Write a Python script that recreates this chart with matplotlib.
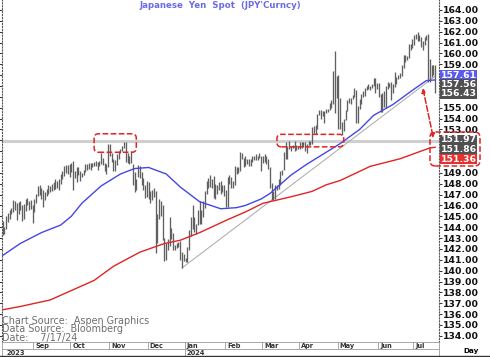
import numpy as np
import pandas as pd
import matplotlib
matplotlib.use("Agg")
import matplotlib.pyplot as plt
from matplotlib.patches import FancyBboxPatch
from matplotlib.lines import Line2D

# daily high / low, USDJPY, 2023-08-08 .. 2024-07-17 (trading days)
high = [
    # Aug
    144.6, 144.0, 145.0, 145.3, 145.6, 145.8, 146.5, 146.4, 146.2, 146.3, 146.4, 146.0, 146.1, 146.6, 146.7, 146.4, 146.5, 146.0,
    # Sep
    146.6, 147.1, 147.8, 147.9, 147.6, 147.4, 147.2, 147.5, 147.9, 147.8, 148.0, 148.2, 148.4, 148.3, 148.4, 148.9, 149.2, 149.6, 149.7, 149.7, 149.8,
    # Oct
    149.9, 150.1, 149.2, 149.5, 149.5, 149.2, 149.0, 149.3, 149.8, 149.8, 149.9, 149.9, 149.9, 150.0, 150.1, 150.0, 150.1, 150.8, 150.4, 149.9, 149.8, 151.7,
    # Nov
    151.7, 150.8, 150.3, 150.2, 150.7, 151.0, 151.2, 151.5, 151.85, 151.8, 150.8, 150.6, 151.0, 149.8, 149.1, 148.4, 149.7, 149.6, 149.1, 148.5, 147.9, 148.3,
    # Dec
    148.2, 147.3, 147.4, 147.6, 147.3, 145.2, 146.6, 146.4, 146.0, 143.0, 142.5, 142.9, 144.9, 143.9, 143.5, 142.4, 142.5, 142.6, 142.7, 141.7, 141.5,
    # Jan
    141.2, 142.2, 143.7, 144.9, 146.0, 144.9, 144.3, 145.6, 146.4, 145.6, 146.4, 147.3, 148.3, 148.5, 148.8, 148.4, 148.7, 148.0, 147.9, 148.2, 148.3, 147.9, 147.9,
    # Feb
    147.4, 148.6, 148.8, 148.6, 148.3, 149.6, 149.5, 149.5, 150.9, 150.8, 150.4, 150.6, 150.3, 150.3, 150.3, 150.6, 150.6, 150.7, 150.6, 150.8, 150.6,
    # Mar
    150.6, 150.7, 150.6, 150.3, 149.5, 148.1, 147.3, 147.9, 147.9, 148.4, 149.2, 149.3, 150.9, 151.8, 151.5, 151.9, 151.5, 151.6, 151.97, 151.6, 151.5,
    # Apr
    151.8, 151.8, 151.8, 151.8, 151.7, 151.9, 151.9, 153.2, 153.3, 153.4, 154.4, 154.8, 154.8, 154.7, 154.7, 154.9, 154.9, 155.4, 155.7, 158.4, 160.2, 157.9,
    # May
    158.0, 155.9, 153.7, 154.0, 154.8, 155.7, 155.9, 155.9, 156.2, 156.8, 156.6, 155.2, 155.8, 156.3, 156.5, 156.8, 157.0, 157.2, 157.0, 157.2, 157.7, 157.7, 157.3,
    # Jun
    157.3, 156.3, 156.4, 156.5, 157.0, 157.4, 157.3, 157.4, 157.2, 158.3, 157.8, 158.0, 158.2, 158.9, 159.9, 159.9, 159.8, 160.9, 160.9, 161.3,
    # Jul
    161.7, 161.8, 161.95, 161.7, 161.5, 161.1, 161.5, 161.7, 161.8, 159.45, 158.9, 158.9, 158.9,
]
low = [
    143.3, 143.4, 143.8, 144.5, 144.8, 145.2, 145.4, 145.6, 144.7, 145.2, 145.6, 144.6, 144.8, 145.5, 146.0, 145.6, 145.7, 144.4,
    145.4, 146.2, 146.9, 147.0, 146.6, 145.9, 146.5, 146.9, 147.1, 147.2, 147.3, 147.4, 147.5, 147.6, 147.4, 148.0, 148.4, 148.7, 149.0, 148.9, 148.6,
    149.1, 147.4, 148.5, 148.2, 148.8, 148.3, 148.6, 148.8, 149.1, 149.3, 149.4, 149.3, 149.5, 149.6, 149.6, 149.3, 149.6, 149.8, 149.7, 149.2, 148.9, 149.5,
    150.6, 150.0, 149.2, 149.2, 149.7, 150.3, 150.8, 151.0, 151.3, 150.0, 149.9, 149.8, 149.9, 147.9, 147.2, 147.4, 148.6, 148.5, 147.9, 147.4, 146.7, 146.8,
    146.6, 146.2, 146.5, 146.8, 141.6, 142.5, 144.8, 145.0, 142.8, 140.9, 141.0, 141.9, 142.3, 142.9, 141.9, 141.9, 142.1, 142.2, 141.0, 140.25, 140.9,
    140.8, 140.8, 141.9, 143.2, 143.8, 143.6, 143.4, 144.2, 144.3, 144.3, 144.9, 145.8, 147.1, 147.6, 147.7, 147.6, 146.7, 146.6, 147.1, 147.4, 147.1, 147.2, 146.9,
    145.9, 145.9, 148.0, 147.6, 147.6, 147.9, 148.9, 149.0, 149.2, 150.3, 149.5, 149.6, 149.8, 149.6, 149.6, 150.0, 150.2, 150.2, 150.2, 150.4, 149.2,
    149.9, 150.0, 149.8, 149.4, 147.6, 146.5, 146.5, 146.6, 147.4, 147.5, 147.9, 148.8, 149.3, 150.3, 150.3, 151.2, 151.0, 151.3, 151.0, 151.1, 151.2,
    151.2, 151.3, 151.4, 151.0, 150.8, 151.6, 151.6, 151.7, 152.7, 152.6, 153.0, 154.3, 154.0, 154.2, 153.6, 154.5, 154.6, 154.8, 155.0, 155.3, 154.5, 155.9,
    153.0, 153.0, 152.5, 152.9, 153.9, 154.7, 155.4, 155.3, 155.8, 156.0, 153.6, 153.6, 154.9, 155.3, 156.0, 156.1, 156.6, 156.7, 156.6, 156.8, 157.0, 156.4, 156.7,
    156.0, 154.6, 154.6, 155.1, 155.0, 156.7, 156.9, 155.7, 156.4, 156.9, 157.2, 157.6, 157.7, 157.9, 158.7, 159.2, 159.4, 159.6, 160.3, 160.5,
    160.8, 161.3, 161.1, 161.1, 160.6, 160.3, 160.8, 161.2, 157.4, 157.4, 157.8, 158.0, 156.4,
]

# moving averages
blue_dates = ["2023-08-08", "2023-08-22", "2023-09-07", "2023-09-22", "2023-10-02", "2023-10-10",
              "2023-10-25", "2023-11-09", "2023-11-21", "2023-12-01", "2023-12-15", "2023-12-27",
              "2024-01-11", "2024-01-29", "2024-02-09", "2024-02-16", "2024-02-29", "2024-03-07",
              "2024-03-25", "2024-04-05", "2024-04-22", "2024-05-02", "2024-05-17", "2024-05-29",
              "2024-06-13", "2024-06-28", "2024-07-10", "2024-07-17"]
blue_vals = [141.4, 142.5, 143.5, 144.2, 145.0, 146.2, 147.8, 148.9, 149.4, 149.5, 148.9, 147.7,
             146.35, 145.7, 145.8, 146.0, 146.6, 147.1, 148.8, 149.8, 150.9, 151.7, 153.0, 154.3,
             155.3, 156.6, 157.5, 157.56]
red_dates = ["2023-08-08", "2023-08-22", "2023-09-14", "2023-10-19", "2023-11-03", "2023-11-24",
             "2023-12-14", "2023-12-27", "2024-01-11", "2024-02-02", "2024-02-16", "2024-03-01",
             "2024-03-25", "2024-04-10", "2024-04-22", "2024-05-02", "2024-05-27", "2024-06-19",
             "2024-07-12", "2024-07-17"]
red_vals = [136.4, 136.7, 137.3, 139.1, 140.4, 141.7, 142.5, 142.8, 143.5, 144.7, 145.4, 146.2,
            146.8, 147.3, 147.9, 148.3, 149.6, 150.3, 151.3, 151.36]

trend_dates = ["2023-12-28", "2024-07-17"]
trend_vals = [140.25, 157.9]
resistance = 151.9

callouts = [("157.61", "#5a5af0"), ("157.56", "#505050"), ("156.43", "#505050"),
            ("151.97", "#505050"), ("151.86", "#505050"), ("151.36", "#e53030")]
callout_y = [75, 84.5, 94, 140, 149.5, 159]
hidden_ticks = [150, 151, 152, 156, 157, 158]   # covered by the callouts

dates = pd.bdate_range(end="2024-07-17", periods=len(high))
idx = np.arange(len(dates))


def pos(ds):
    return dates.get_indexer(pd.to_datetime(ds))


W, H = 490, 357
def fx(p): return p / W
def fy(p): return 1 - p / H


fig = plt.figure(figsize=(4.9, 3.57), dpi=100)
ax = fig.add_axes([fx(2), fy(342), fx(438.5) - fx(2), fy(0) - fy(342)])
ax.set_xlim(-0.4, 247.9)
ax.set_ylim(133.43, 164.92)

red = "#e02424"
ax.axhline(resistance, color="#cfcfcf", lw=2.2, zorder=1)
ax.plot(pos(trend_dates), trend_vals, color="#a8a8a8", lw=0.7, zorder=2)
ax.vlines(idx, low, high, color="#606060", lw=0.95, zorder=3)
ax.plot(pos(blue_dates), blue_vals, color="#4646e6", lw=1.0, zorder=4)
ax.plot(pos(red_dates), red_vals, color=red, lw=1.0, zorder=4)

# dashed boxes
asp = (436.5 / 248.3) / 10.86
for d0, d1, y0, y1 in [("2023-10-19", "2023-11-22", 150.9, 152.6),
                       ("2024-03-13", "2024-05-06", 151.4, 152.55)]:
    i0, i1 = pos([d0, d1])
    ax.add_patch(FancyBboxPatch((i0, y0), i1 - i0, y1 - y0,
                                boxstyle="round,pad=0,rounding_size=2.5", mutation_aspect=asp,
                                fill=False, ec=red, ls="--", lw=1.1, zorder=5))

a0, a1 = pos(["2024-07-08", "2024-07-16"])
ax.annotate("", xy=(a1, 152.2), xytext=(a0, 156.8),
            arrowprops=dict(arrowstyle="<|-|>", color=red, lw=1.1, ls="--",
                            mutation_scale=6, shrinkA=0, shrinkB=0), zorder=6)

ax.set_xticks([])
ax.yaxis.tick_right()
ticks = np.arange(134, 165)
ax.set_yticks(ticks)
ax.set_yticklabels(["" if t in hidden_ticks else f"{t:.2f}" for t in ticks])
ax.tick_params(axis="y", left=True, right=True, labelleft=False, labelright=True,
               length=2, width=0.6, pad=1, labelsize=6.7, colors="#111")
for lbl in ax.get_yticklabels():
    lbl.set_fontweight("bold")
ax.spines["top"].set_visible(False)
for s in ["left", "right"]:
    ax.spines[s].set_linestyle(":")
    ax.spines[s].set_color("#555")
    ax.spines[s].set_linewidth(0.8)
ax.spines["bottom"].set_color("#999")
ax.spines["bottom"].set_linewidth(0.6)

# date strip
dax = fig.add_axes([fx(2), fy(356), fx(438.5) - fx(2), fy(342) - fy(356)])
dax.set_xlim(ax.get_xlim())
dax.set_ylim(0, 2)
dax.set_xticks([])
dax.set_yticks([])
for s in dax.spines.values():
    s.set_color("#999")
    s.set_linewidth(0.6)
dax.axhline(1, color="#999", lw=0.6)
for i in range(1, len(dates)):
    if dates[i].month != dates[i - 1].month:
        dax.vlines(i - 0.5, 1, 2, color="#999", lw=0.6)
        dax.text(i + 0.6, 1.45, dates[i].strftime("%b"), fontsize=4.8, fontweight="bold",
                 color="#333", va="center", ha="left")
        if dates[i].year != dates[i - 1].year:
            dax.vlines(i - 0.5, 0, 1, color="#999", lw=0.6)
            dax.text(i + 0.6, 0.45, str(dates[i].year), fontsize=4.8, fontweight="bold",
                     color="#333", va="center", ha="left")
dax.text(2, 0.45, str(dates[0].year), fontsize=4.8, fontweight="bold", color="#333",
         va="center", ha="left")

fig.add_artist(Line2D([0, 1], [fy(356.3)] * 2, transform=fig.transFigure, color="#333", lw=1))
fig.text(fx(471), fy(350.5), "Day", fontsize=5.2, fontweight="bold", ha="center", va="center")

# title and sources
fig.text(fx(220), fy(5), "Japanese  Yen  Spot  (JPY'Curncy)", ha="center", va="center",
         color="#6b6be6", fontsize=6.2, fontweight="bold")
for y, s in [(321, "Chart Source:  Aspen Graphics"), (329.5, "Data Source:  Bloomberg"),
             (338, "Date:    7/17/24")]:
    fig.text(fx(2), fy(y), s, fontsize=6.9, color="#6e6e6e", ha="left", va="center")

# value callouts
for (txt, c), y in zip(callouts, callout_y):
    fig.text(fx(440.5), fy(y), txt, fontsize=6.7, fontweight="bold", color="white",
             ha="left", va="center", zorder=10,
             bbox=dict(boxstyle="square,pad=0.08", fc=c, ec="none"))

fig.add_artist(FancyBboxPatch((fx(430), fy(166)), fx(480) - fx(430), fy(132) - fy(166),
                              boxstyle="round,pad=0,rounding_size=0.011", mutation_aspect=W / H,
                              transform=fig.transFigure, fill=False, ec=red, ls="--", lw=1.1,
                              zorder=11))

fig.savefig("out.png", dpi=100)
